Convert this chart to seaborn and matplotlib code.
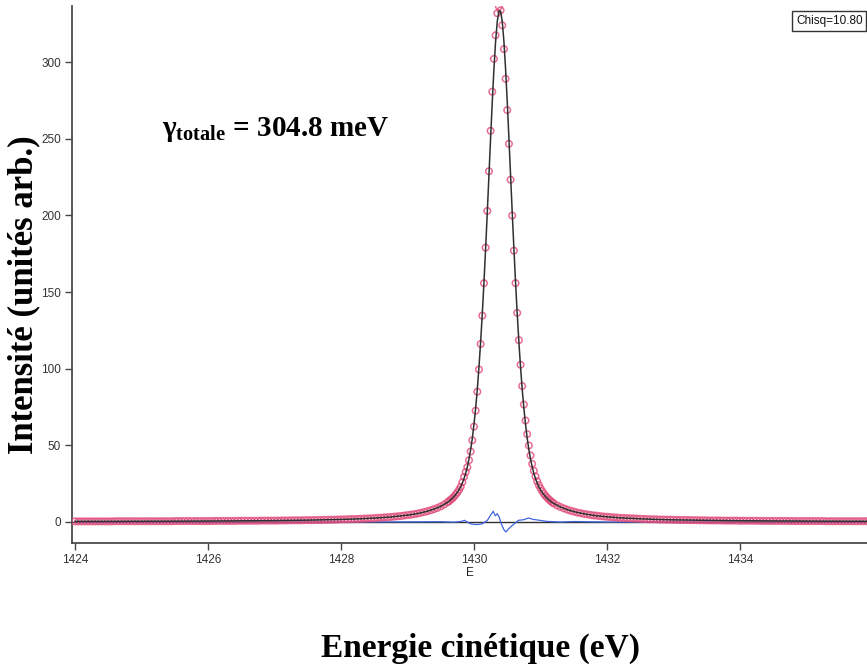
"""
Lorentzian-like photoemission peak with fit and residual,
redrawn from an exported fit window.
"""

import matplotlib

matplotlib.use('Agg')

import matplotlib.pyplot as plt
import numpy as np
import pandas as pd
import seaborn as sns


# measured points (eV grid, intensities in arb. units)
E_LEFT = np.round(np.arange(1424.00, 1429.62, 0.05), 3)
DATA_LEFT = [
    0.4, 0.4, 0.4, 0.4, 0.4, 0.4, 0.4, 0.4, 0.4, 0.4,
    0.4, 0.4, 0.5, 0.5, 0.5, 0.5, 0.5, 0.5, 0.5, 0.5,
    0.5, 0.5, 0.5, 0.5, 0.5, 0.5, 0.5, 0.5, 0.5, 0.5,
    0.6, 0.6, 0.6, 0.6, 0.6, 0.6, 0.6, 0.6, 0.6, 0.6,
    0.6, 0.6, 0.7, 0.7, 0.7, 0.7, 0.7, 0.7, 0.7, 0.8,
    0.8, 0.8, 0.8, 0.8, 0.8, 0.8, 0.9, 0.9, 0.9, 0.9,
    0.9, 0.9, 1.0, 1.0, 1.0, 1.1, 1.1, 1.1, 1.1, 1.2,
    1.2, 1.2, 1.3, 1.3, 1.3, 1.4, 1.4, 1.5, 1.5, 1.6,
    1.7, 1.7, 1.8, 1.9, 1.9, 2.0, 2.1, 2.2, 2.3, 2.4,
    2.5, 2.7, 2.8, 3.0, 3.1, 3.3, 3.5, 3.7, 3.9, 4.2,
    4.5, 4.8, 5.1, 5.5, 6.0, 6.5, 7.0, 7.7, 8.4, 9.2,
    10.2, 11.4, 12.8,
]

E_CORE = np.round(np.arange(1429.625, 1431.18, 0.025), 3)
DATA_CORE = [
    13.6, 14.5, 15.5, 16.6, 17.9, 19.3, 21.0, 23.0, 25.9, 29.4,
    32.6, 35.8, 40.3, 46.0, 53.3, 62.2, 72.6, 85.0, 99.5, 116.1,
    134.6, 155.8, 179.0, 202.9, 228.8, 255.2, 280.7, 302.1, 317.5, 331.9,
    336.3, 333.8, 324.0, 308.5, 289.1, 268.7, 246.7, 223.3, 199.9, 177.0,
    155.8, 136.4, 118.6, 102.6, 88.7, 76.6, 66.2, 57.3, 49.9, 43.4,
    37.9, 33.4, 29.7, 26.6, 24.1, 22.0, 20.1, 18.5, 17.1, 15.9,
    14.8, 13.8, 12.9,
]

E_RIGHT = np.round(np.arange(1431.20, 1435.96, 0.05), 3)
DATA_RIGHT = [
    12.1, 10.8, 9.8, 8.9, 8.1, 7.4, 6.8, 6.2, 5.8, 5.3,
    5.0, 4.6, 4.3, 4.1, 3.8, 3.6, 3.4, 3.2, 3.0, 2.9,
    2.7, 2.6, 2.5, 2.4, 2.3, 2.2, 2.1, 2.0, 1.9, 1.8,
    1.8, 1.7, 1.6, 1.6, 1.5, 1.5, 1.4, 1.4, 1.3, 1.3,
    1.3, 1.2, 1.2, 1.2, 1.1, 1.1, 1.1, 1.0, 1.0, 1.0,
    1.0, 0.9, 0.9, 0.9, 0.9, 0.9, 0.8, 0.8, 0.8, 0.8,
    0.8, 0.8, 0.7, 0.7, 0.7, 0.7, 0.7, 0.7, 0.7, 0.7,
    0.7, 0.6, 0.6, 0.6, 0.6, 0.6, 0.6, 0.6, 0.6, 0.6,
    0.6, 0.6, 0.5, 0.5, 0.5, 0.5, 0.5, 0.5, 0.5, 0.5,
    0.5, 0.5, 0.5, 0.5, 0.5, 0.5,
]

# fitted curve
FIT_E_LEFT = [1424.0, 1424.5, 1425.0, 1425.5, 1426.0, 1426.5, 1427.0, 1427.5,
              1428.0, 1428.25, 1428.5, 1428.75, 1429.0, 1429.1, 1429.2,
              1429.3, 1429.4, 1429.5, 1429.6]
FIT_LEFT = [0.41, 0.44, 0.49, 0.55, 0.64, 0.76, 0.93, 1.21, 1.67, 2.03,
            2.53, 3.29, 4.47, 5.13, 5.97, 7.03, 8.40, 10.23, 12.76]
FIT_CORE = [
    13.6, 14.5, 15.5, 16.6, 17.9, 19.3, 21.0, 23.0, 25.4, 28.3,
    31.8, 36.0, 41.1, 47.3, 54.7, 63.7, 74.3, 86.7, 101.1, 117.5,
    135.9, 156.3, 178.5, 201.9, 226.3, 250.7, 274.2, 295.6, 313.5, 326.5,
    333.3, 333.3, 326.5, 313.5, 295.6, 274.2, 250.7, 226.3, 201.9, 178.5,
    156.3, 135.9, 117.5, 101.1, 86.7, 74.3, 63.7, 54.7, 47.3, 41.1,
    36.0, 31.8, 28.3, 25.4, 23.0, 21.0, 19.3, 17.9, 16.6, 15.5,
    14.5, 13.6, 12.8,
]
FIT_E_RIGHT = [1431.2, 1431.3, 1431.4, 1431.5, 1431.6, 1431.7, 1431.8,
               1431.9, 1432.0, 1432.2, 1432.4, 1432.6, 1432.8, 1433.0,
               1433.5, 1434.0, 1434.5, 1435.0, 1435.5, 1436.0]
FIT_RIGHT = [12.1, 9.8, 8.1, 6.8, 5.8, 5.0, 4.3, 3.8, 3.4, 2.7, 2.3, 1.9,
             1.6, 1.4, 1.1, 0.85, 0.70, 0.60, 0.52, 0.46]

# residual (data - fit)
RES_E = [1424.0, 1426.0, 1428.0, 1429.0, 1429.5, 1429.7, 1429.8, 1429.86,
         1429.91, 1429.96, 1430.04, 1430.12, 1430.2, 1430.25, 1430.29,
         1430.32, 1430.35, 1430.38, 1430.41, 1430.45, 1430.48, 1430.52,
         1430.59, 1430.67, 1430.75, 1430.82, 1430.89, 1430.99, 1431.09,
         1431.2, 1431.3, 1431.5, 1432.0, 1434.0, 1436.0]
RES = [0.0, 0.0, 0.0, 0.1, 0.2, -0.1, 0.3, 1.1, -0.4, -1.3, -1.7, -1.3,
       1.0, 4.5, 7.0, 4.0, 5.4, 3.0, -1.0, -5.0, -6.5, -4.5, -1.7, 1.1,
       1.5, 2.6, 1.7, 1.1, 0.4, 0.2, 0.0, 0.3, 0.0, 0.0, 0.0]

TICKS_X = [1424, 1426, 1428, 1430, 1432, 1434]
TICKS_Y = [0, 50, 100, 150, 200, 250, 300]

PINK = '#e04a78'
FIT_COLOR = '#303030'
RES_COLOR = '#3f66e0'
AXIS_COLOR = '#444444'

SERIF = ['Liberation Serif', 'DejaVu Serif']
SANS = ['Liberation Sans Narrow', 'Liberation Sans', 'DejaVu Sans']


def main() -> None:
    sns.set_theme(style='ticks')
    plt.rcParams.update(
        {
            'font.family': SANS,
            'mathtext.fontset': 'custom',
            'mathtext.rm': 'Liberation Serif',
            'mathtext.it': 'Liberation Serif:italic',
            'mathtext.bf': 'Liberation Serif:bold',
            'axes.edgecolor': AXIS_COLOR,
            'xtick.color': AXIS_COLOR,
            'ytick.color': AXIS_COLOR,
            'xtick.labelcolor': '#333333',
            'ytick.labelcolor': '#333333',
        }
    )

    data = pd.DataFrame(
        {
            'E': np.concatenate([E_LEFT, E_CORE, E_RIGHT]),
            'I': DATA_LEFT + DATA_CORE + DATA_RIGHT,
        }
    )
    fit = pd.DataFrame(
        {
            'E': np.concatenate([FIT_E_LEFT, E_CORE, FIT_E_RIGHT]),
            'I': FIT_LEFT + FIT_CORE + FIT_RIGHT,
        }
    )
    res = pd.DataFrame({'E': RES_E, 'I': RES})

    fig = plt.figure(figsize=(8.67, 6.68), dpi=100)
    ax = fig.add_axes([72 / 867, 1 - 543 / 668, 1 - 72 / 867, 537 / 668])

    ax.axhline(0, color=FIT_COLOR, lw=1.0, zorder=1)
    sns.lineplot(data=res, x='E', y='I', ax=ax, color=RES_COLOR, lw=0.9,
                 zorder=2)
    sns.scatterplot(data=data, x='E', y='I', ax=ax, marker='o', s=22,
                    color=PINK, facecolor='none', edgecolor=PINK,
                    linewidth=1.1, alpha=0.8, zorder=3)
    sns.lineplot(data=fit, x='E', y='I', ax=ax, color=FIT_COLOR, lw=1.1,
                 zorder=4)

    ax.set_xlim(1423.955, 1435.91)
    ax.set_ylim(-13.7, 336.6)
    ax.set_xticks(TICKS_X)
    ax.set_yticks(TICKS_Y)
    ax.tick_params(length=5, width=1, labelsize=8.5, pad=3)
    sns.despine(ax=ax)

    ax.set_xlabel('E', fontsize=8.5, labelpad=1, color='#222222')
    ax.set_ylabel('')

    fig.text(24 / 867, 1 - 295 / 668, 'Intensité (unités arb.)',
             family=SERIF, fontweight='bold', fontsize=25, rotation=90,
             ha='center', va='center', color='black')

    fig.text(480 / 867, 1 - 648 / 668, 'Energie cinétique (eV)',
             family=SERIF, fontweight='bold', fontsize=24,
             ha='center', va='center', color='black')

    fig.text(162 / 867, 1 - 130 / 668,
             r'$\mathbf{\gamma_{totale}}$ = 304.8 meV',
             family=SERIF, fontweight='bold', fontsize=21,
             ha='left', va='center', color='black')

    fig.text(796 / 867, 1 - 21 / 668, 'Chisq=10.80', fontsize=8.5,
             color='#111111', ha='left', va='center',
             bbox=dict(boxstyle='square,pad=0.3', fc='white',
                       ec='#333333', lw=1.0))

    fig.savefig('out.png', dpi=100)


if __name__ == '__main__':
    main()
